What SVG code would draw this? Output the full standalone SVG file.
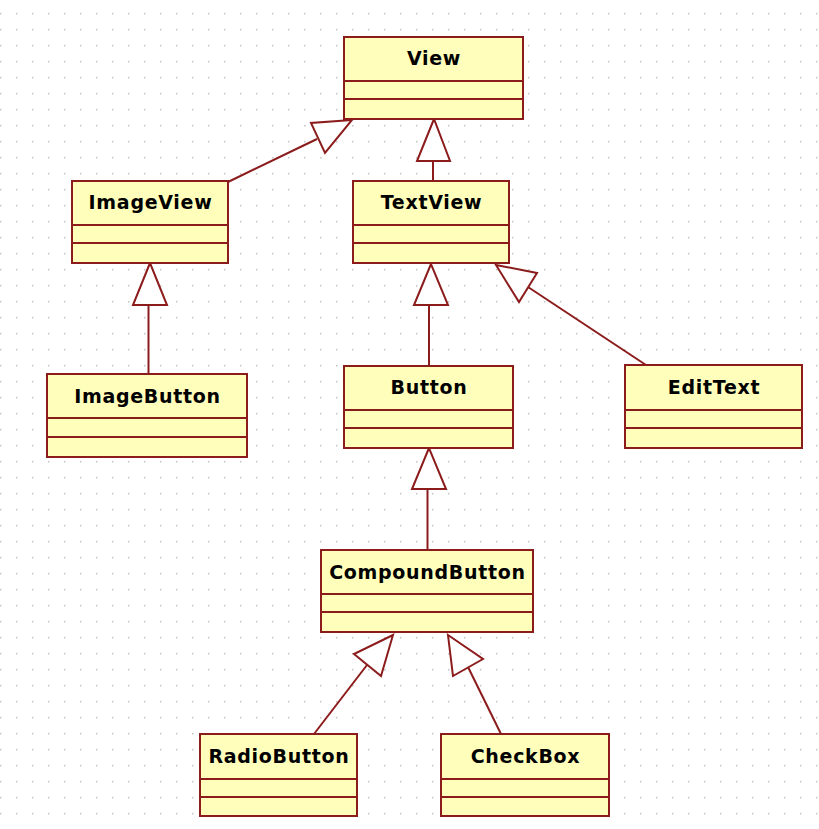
<svg xmlns="http://www.w3.org/2000/svg" width="819" height="829" viewBox="0 0 819 829">
  <style>
    .box { fill: #ffffbb; stroke: #8c1c1c; stroke-width: 2; }
    .sep { stroke: #8c1c1c; stroke-width: 2; }
    .name { font-family: "DejaVu Sans", "Liberation Sans", sans-serif; font-weight: bold; font-size: 19px; letter-spacing: 0.7px; fill: #000; text-anchor: middle; }
    .edge { fill: none; stroke: #8c1c1c; stroke-width: 2; }
    .head { fill: #ffffff; stroke: #8c1c1c; stroke-width: 2; stroke-linejoin: miter; }
  </style>
  <defs>
    <pattern id="grid" x="0" y="13" width="16" height="16" patternUnits="userSpaceOnUse">
      <rect x="0" y="0" width="1.5" height="1.5" fill="#c4c4c4"/>
    </pattern>
  </defs>

  <!-- canvas with dotted grid -->
  <rect width="819" height="829" fill="#ffffff"/>
  <rect width="819" height="829" fill="url(#grid)"/>

  <!-- generalization connectors -->
  <g id="connectors">
    <!-- TextView -> View -->
    <line class="edge" x1="433" y1="161" x2="433" y2="181"/>
    <polygon class="head" points="434,119 417,161 450,161"/>
    <!-- ImageView -> View -->
    <line class="edge" x1="228" y1="182" x2="317" y2="139"/>
    <polygon class="head" points="352,120 311,123 325,153"/>
    <!-- ImageButton -> ImageView -->
    <line class="edge" x1="148.5" y1="305" x2="148.5" y2="374"/>
    <polygon class="head" points="150,263 133,305 167,305"/>
    <!-- Button -> TextView -->
    <line class="edge" x1="429" y1="305" x2="429" y2="366"/>
    <polygon class="head" points="431,264 414,305 448,305"/>
    <!-- EditText -> TextView -->
    <line class="edge" x1="528" y1="287" x2="646" y2="365"/>
    <polygon class="head" points="496,265 537,273 519,302"/>
    <!-- CompoundButton -> Button -->
    <line class="edge" x1="427.5" y1="489" x2="427.5" y2="550"/>
    <polygon class="head" points="429,448 412,489 446,489"/>
    <!-- RadioButton -> CompoundButton -->
    <line class="edge" x1="367" y1="665" x2="314" y2="734"/>
    <polygon class="head" points="393,635 354,654 381,676"/>
    <!-- CheckBox -> CompoundButton -->
    <line class="edge" x1="468" y1="667" x2="501" y2="734"/>
    <polygon class="head" points="448,635 483,659 453,676"/>
  </g>

  <!-- classes -->
  <g id="view">
    <rect class="box" x="344" y="37" width="179" height="82"/>
    <line class="sep" x1="344" y1="81" x2="523" y2="81"/>
    <line class="sep" x1="344" y1="99" x2="523" y2="99"/>
    <text class="name" x="434" y="65">View</text>
  </g>

  <g id="imageview">
    <rect class="box" x="72" y="181" width="156" height="82"/>
    <line class="sep" x1="72" y1="225" x2="228" y2="225"/>
    <line class="sep" x1="72" y1="243" x2="228" y2="243"/>
    <text class="name" x="150.5" y="209">ImageView</text>
  </g>

  <g id="textview">
    <rect class="box" x="353" y="181" width="156" height="82"/>
    <line class="sep" x1="353" y1="225" x2="509" y2="225"/>
    <line class="sep" x1="353" y1="243" x2="509" y2="243"/>
    <text class="name" x="431.5" y="209">TextView</text>
  </g>

  <g id="imagebutton">
    <rect class="box" x="47" y="374" width="200" height="83"/>
    <line class="sep" x1="47" y1="418" x2="247" y2="418"/>
    <line class="sep" x1="47" y1="437" x2="247" y2="437"/>
    <text class="name" x="147.5" y="403">ImageButton</text>
  </g>

  <g id="button">
    <rect class="box" x="344" y="366" width="169" height="82"/>
    <line class="sep" x1="344" y1="410" x2="513" y2="410"/>
    <line class="sep" x1="344" y1="428" x2="513" y2="428"/>
    <text class="name" x="429" y="394">Button</text>
  </g>

  <g id="edittext">
    <rect class="box" x="625" y="365" width="177" height="83"/>
    <line class="sep" x1="625" y1="410" x2="802" y2="410"/>
    <line class="sep" x1="625" y1="428" x2="802" y2="428"/>
    <text class="name" x="714" y="394">EditText</text>
  </g>

  <g id="compoundbutton">
    <rect class="box" x="321" y="550" width="212" height="82"/>
    <line class="sep" x1="321" y1="594" x2="533" y2="594"/>
    <line class="sep" x1="321" y1="612" x2="533" y2="612"/>
    <text class="name" x="427.5" y="579">CompoundButton</text>
  </g>

  <g id="radiobutton">
    <rect class="box" x="200" y="734" width="157" height="82"/>
    <line class="sep" x1="200" y1="779" x2="357" y2="779"/>
    <line class="sep" x1="200" y1="797" x2="357" y2="797"/>
    <text class="name" x="279" y="763">RadioButton</text>
  </g>

  <g id="checkbox">
    <rect class="box" x="441" y="734" width="168" height="82"/>
    <line class="sep" x1="441" y1="779" x2="609" y2="779"/>
    <line class="sep" x1="441" y1="797" x2="609" y2="797"/>
    <text class="name" x="525.5" y="763">CheckBox</text>
  </g>
</svg>
